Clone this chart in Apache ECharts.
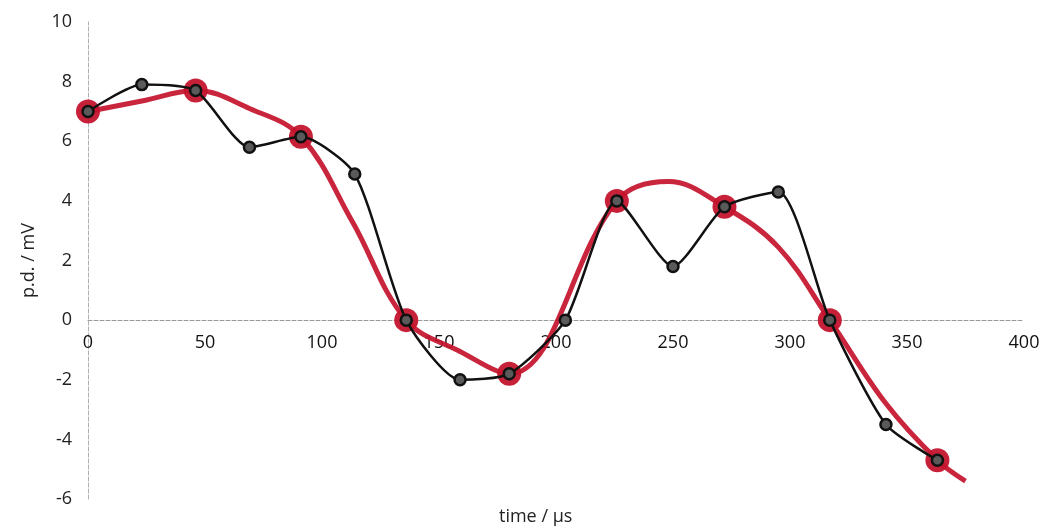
<!DOCTYPE html>
<html>
<head>
<meta charset="utf-8">
<script src="https://cdn.jsdelivr.net/npm/echarts@6/dist/echarts.min.js"></script>
<style>
html,body{margin:0;padding:0;background:#ffffff;}
#chart{width:1044px;height:532px;}
</style>
</head>
<body>
<div id="chart"></div>
<script>
// measured trace (black)
var timeValues = [0, 23, 46, 69, 91, 114, 136, 159, 180, 204, 226, 250, 272, 295, 317, 341, 363];
var pdValues   = [7.0, 7.9, 7.7, 5.8, 6.15, 4.9, 0.0, -2.0, -1.8, 0.0, 4.0, 1.8, 3.8, 4.3, 0.0, -3.5, -4.7];
// indices of points that were circled in red
var markedIdx = [0, 2, 4, 6, 8, 10, 12, 14, 16];
// hand-drawn red curve
var curveTime = [0, 23, 46, 69, 91, 113, 136, 159, 180, 226, 248, 272, 295, 317, 341, 363, 375];
var curvePd   = [7.0, 7.35, 7.7, 7.1, 6.15, 3.3, 0.0, -1.05, -1.8, 4.0, 4.65, 3.8, 2.45, 0.0, -2.8, -4.7, -5.4];
var xTicks = [0, 50, 100, 150, 200, 250, 300, 350, 400];
var yTicks = [-6, -4, -2, 0, 2, 4, 6, 8, 10];

var blackData = timeValues.map(function(t, i){ return [t, pdValues[i]]; });
var redMarks = markedIdx.map(function(i){ return [timeValues[i], pdValues[i]]; });
var redCurve = curveTime.map(function(t, i){ return [t, curvePd[i]]; });
var xLabelData = xTicks.map(function(t){ return [t, 0]; });

var fontFam = '"Open Sans", "Liberation Sans", sans-serif';
var chart = echarts.init(document.getElementById('chart'), null, {renderer: 'canvas'});
chart.setOption({
  backgroundColor: '#ffffff',
  animation: false,
  grid: {left: 88, right: 20, top: 22, bottom: 33, containLabel: false},
  xAxis: {
    type: 'value',
    min: xTicks[0], max: xTicks[xTicks.length - 1], interval: 50,
    axisLine: {onZero: true, lineStyle: {color: '#9a9a9a', width: 1, type: 'dashed'}},
    axisTick: {show: false},
    splitLine: {show: false},
    axisLabel: {show: false}
  },
  yAxis: {
    type: 'value',
    min: yTicks[0], max: yTicks[yTicks.length - 1], interval: 2,
    name: 'p.d. / mV', nameLocation: 'middle', nameGap: 50, nameRotate: 90,
    nameTextStyle: {color: '#222', fontSize: 18, fontFamily: fontFam},
    axisLine: {show: true, onZero: false, lineStyle: {color: '#b0b0b0', width: 1, type: 'dashed'}},
    axisTick: {show: false},
    splitLine: {show: false},
    axisLabel: {color: '#222', fontSize: 18, fontFamily: fontFam, margin: 16}
  },
  graphic: [{
    type: 'text', left: 499, top: 508,
    style: {text: 'time / \u03bcs', fill: '#222', fontSize: 18, fontFamily: fontFam}
  }],
  series: [
    {
      type: 'scatter', data: xLabelData, symbolSize: 0, silent: true, clip: false,
      itemStyle: {color: '#000000', opacity: 1},
      label: {show: true, position: 'bottom', distance: 14, color: '#111', opacity: 1, textBorderWidth: 0,
        fontSize: 18, fontFamily: fontFam,
        formatter: function(p){ return String(p.value[0]); }},
      z: 0
    },
    {
      type: 'line', data: redCurve, smooth: 0.38, showSymbol: false, symbol: 'none',
      lineStyle: {color: '#c4142e', width: 5, opacity: 0.92}, z: 1
    },
    {
      type: 'scatter', data: redMarks, symbol: 'circle', symbolSize: 24,
      itemStyle: {color: '#c4142e', opacity: 0.95}, z: 2
    },
    {
      type: 'line', data: blackData, smooth: 0.22, symbol: 'circle', symbolSize: 11, showAllSymbol: true,
      lineStyle: {color: '#111', width: 2.5},
      itemStyle: {color: '#5a5a5a', borderColor: '#111', borderWidth: 2.5}, z: 3
    }
  ]
});
</script>
</body>
</html>
